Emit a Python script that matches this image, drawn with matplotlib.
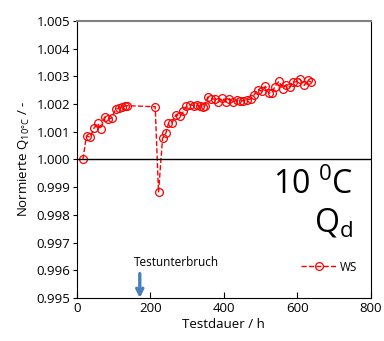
import matplotlib
matplotlib.use("Agg")
import matplotlib.pyplot as plt

plt.rcParams['font.family'] = ['Open Sans', 'DejaVu Sans']
plt.rcParams['mathtext.fontset'] = 'custom'
plt.rcParams['mathtext.rm'] = 'Open Sans'
plt.rcParams['mathtext.it'] = 'Open Sans'

hours = [16, 26, 36, 46, 56, 65, 75, 85, 95, 105, 114, 122, 130, 135, 213,
         222, 233, 242, 249, 258, 270, 281, 290, 298, 309, 318, 327, 336, 343,
         348, 356, 365, 376, 385, 396, 405, 415, 425, 435, 445, 453, 462, 473,
         483, 493, 503, 513, 522, 531, 539, 550, 560, 570, 580, 589, 598, 607,
         619, 628, 638]
ws = [1.00000, 1.00085, 1.00080, 1.00112, 1.00130, 1.00110, 1.00153, 1.00145,
      1.00150, 1.00181, 1.00185, 1.00190, 1.00192, 1.00194, 1.00190,
      0.99881, 1.00076, 1.00094, 1.00130, 1.00130, 1.00162, 1.00156, 1.00174,
      1.00192, 1.00198, 1.00194, 1.00195, 1.00194, 1.00190, 1.00192, 1.00225,
      1.00218, 1.00218, 1.00208, 1.00221, 1.00207, 1.00219, 1.00207, 1.00214,
      1.00212, 1.00212, 1.00215, 1.00218, 1.00234, 1.00252, 1.00246, 1.00264,
      1.00239, 1.00241, 1.00263, 1.00282, 1.00255, 1.00270, 1.00261, 1.00279,
      1.00280, 1.00290, 1.00267, 1.00285, 1.00279]

xticks = [0, 200, 400, 600, 800]
yticks = [0.995, 0.996, 0.997, 0.998, 0.999, 1.000, 1.001, 1.002, 1.003, 1.004, 1.005]

fig = plt.figure(figsize=(3.84, 3.41), dpi=100)
ax = fig.add_axes([0.2005, 0.126, 0.765, 0.813])

ax.plot(hours, ws, color='red', linestyle='--', linewidth=1.0, marker='o',
        markersize=5.6, markerfacecolor='none', markeredgecolor='red',
        markeredgewidth=0.9, label='WS')
ax.axhline(1.0, color='black', linewidth=1.0)

ax.set_xlim(0, 800)
ax.set_ylim(0.995, 1.005)
ax.set_xticks(xticks)
ax.set_yticks(yticks)
ax.set_yticklabels([f"{v:.3f}" for v in yticks])
ax.tick_params(axis='x', direction='in', length=4, labelsize=9.5, pad=3)
ax.tick_params(axis='y', direction='out', length=3, labelsize=9.5, pad=2)
ax.spines['top'].set_color('#808080')
ax.spines['top'].set_linewidth(1.5)

ax.set_xlabel('Testdauer / h', fontsize=9.5, labelpad=2)
ax.set_ylabel(r'Normierte Q$_{10°\mathrm{C}}$ / -', fontsize=9.5, labelpad=3)

ax.text(752, 0.99905, r'10 $^{\mathrm{0}}$C', fontsize=23, ha='right', va='center')
ax.text(752, 0.99770, r'Q$_{\mathrm{d}}$', fontsize=23, ha='right', va='center')

ax.annotate('', xy=(171, 0.99500), xytext=(171, 0.99588),
            arrowprops=dict(arrowstyle='->', color='#4a7ebb', lw=2.4,
                            mutation_scale=11, shrinkA=0, shrinkB=0))
ax.text(271, 0.99627, 'Testunterbruch', fontsize=8.5, ha='center', va='center')

leg = ax.legend(loc='lower right', bbox_to_anchor=(0.99, 0.05), frameon=False,
                fontsize=8.5, handlelength=3.0, handletextpad=0.3)

fig.savefig('out.png', dpi=100)
